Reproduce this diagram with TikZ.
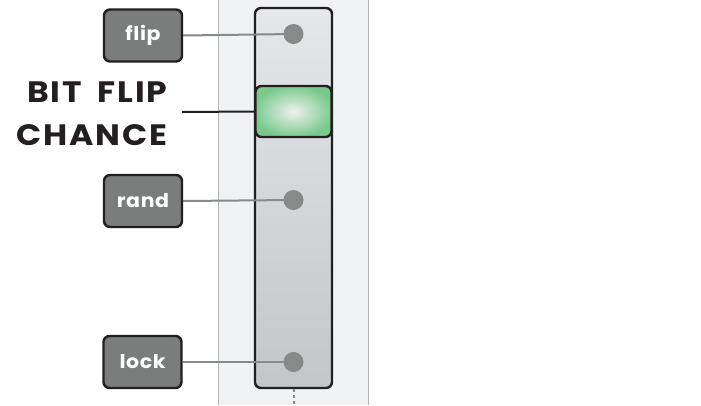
\documentclass[tikz,border=0pt]{standalone}
\usepackage{fontspec}
\setmainfont{Poppins}[BoldFont=* Bold]
\newfontfamily\titlefont{Poppins Bold}[FakeStretch=1.12, LetterSpace=6, WordSpace=1.8]
\newfontfamily\tagfont{Poppins Bold}[FakeStretch=1.08, LetterSpace=3]
\definecolor{panelbg}{HTML}{F1F2F4}
\definecolor{panelline}{HTML}{B4B5B7}
\definecolor{boxfill}{HTML}{7A7D7C}
\definecolor{darkline}{HTML}{231F20}
\definecolor{dotgray}{HTML}{868B8A}
\definecolor{trtop}{HTML}{E6E7E9}
\definecolor{trbot}{HTML}{C4C5C7}
\definecolor{hgreen}{HTML}{78C98A}
\definecolor{hcenter}{HTML}{EEF1EF}
\tikzset{
  lbox/.style={draw=darkline, line width=2.4pt, fill=boxfill, rounded corners=6pt,
    minimum width=78pt, minimum height=52pt, inner sep=0pt, text=white,
    font=\fontsize{19}{19}\tagfont},
  knob/.style={circle, fill=dotgray, minimum size=20pt, inner sep=0pt},
  conn/.style={draw=dotgray, line width=2pt},
}
\begin{document}
\begin{tikzpicture}[x=1pt,y=-1pt]
\useasboundingbox (0,0) rectangle (701,405);
\fill[white] (0,0) rectangle (701,405);
% panel
\fill[panelbg] (218,0) rectangle (368,405);
\draw[panelline, line width=1pt] (218,0) -- (218,405);
\draw[panelline, line width=1pt] (368,0) -- (368,405);
% track
\node[draw=darkline, line width=2.4pt, rounded corners=6pt, minimum width=77pt, minimum height=380pt,
  top color=trtop, bottom color=trbot, inner sep=0pt] (track) at (293.5,198) {};
% labels
\node[lbox] (flip) at (143,35.5) {flip};
\node[lbox] (rand) at (143,201) {rand};
\node[lbox] (lock) at (142.5,362) {lock};
\node[anchor=east, align=right, inner sep=0pt, font=\fontsize{29.5}{43}\titlefont, text=darkline]
  (bfc) at (167.5,114) {BIT FLIP\\CHANCE};
% knobs
\coordinate (k1) at (293.5,34);
\coordinate (k2) at (293.5,200);
\coordinate (k3) at (293.5,362);
\draw[conn] (flip.east) -- (k1);
\draw[conn] (rand.east) -- (k2);
\draw[conn] (lock.east) -- (k3);
\node[knob] (dot1) at (k1) {};
\node[knob] (dot2) at (k2) {};
\node[knob] (dot3) at (k3) {};
% handle
\node[draw=darkline, line width=2.4pt, rounded corners=6pt, minimum width=76pt, minimum height=51pt,
  inner sep=0pt, fill=hgreen,
  path picture={\shade[inner color=hcenter, outer color=hgreen]
     (path picture bounding box.center) ellipse [x radius=40pt, y radius=26pt];}] (handle) at (293.5,111.5) {};
\coordinate (lblend) at (182,112);
\draw[darkline, line width=2pt] (lblend) -- (handle.west);
% dotted tail
\coordinate (tailend) at (293.5,405);
\draw[dotgray, line width=2pt, dash pattern=on 3pt off 3pt] (track.south) -- (tailend);
\end{tikzpicture}
\end{document}
